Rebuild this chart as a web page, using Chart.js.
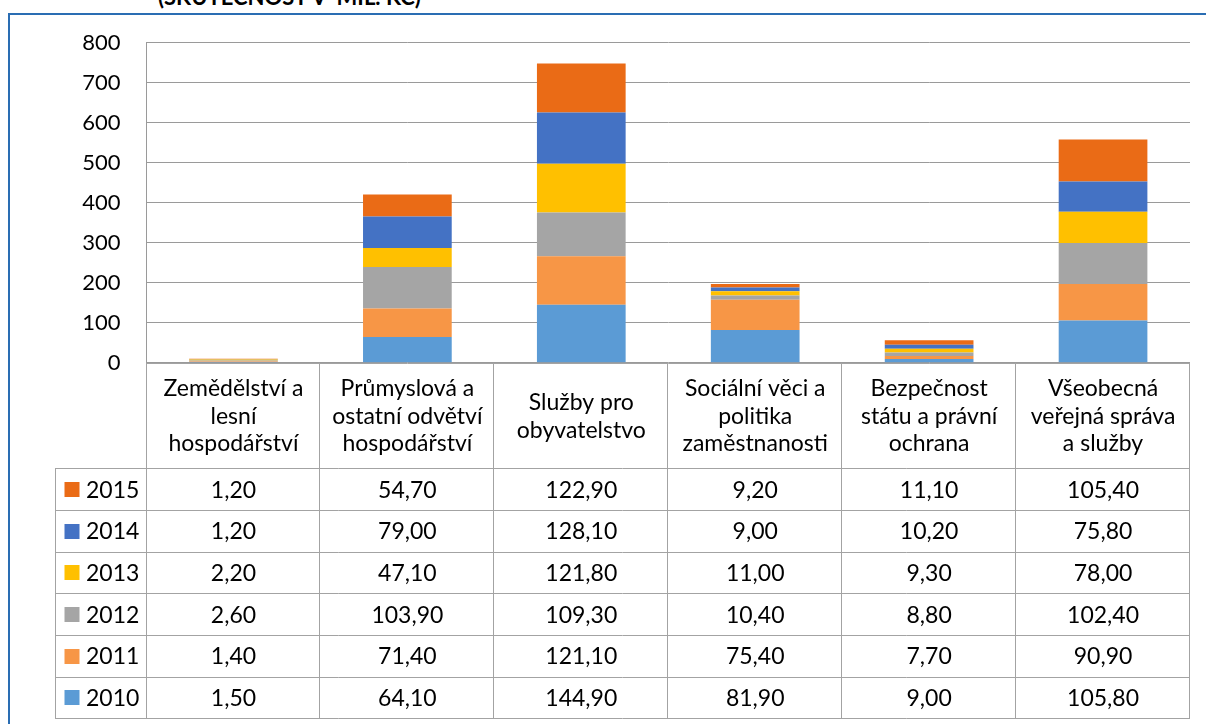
<!DOCTYPE html>
<html>
<head>
<meta charset="utf-8">
<script src="https://cdn.jsdelivr.net/npm/chart.js@4.4.1/dist/chart.umd.min.js"></script>
<style>
  html, body { margin: 0; padding: 0; background: #fff; width: 1206px; height: 724px; overflow: hidden; }
  #frame { position: absolute; left: 8px; top: 13px; width: 1210px; height: 720px; border-left: 2px solid #2a6db3; border-top: 2px solid #2a6db3; box-sizing: border-box; }
  #title { position: absolute; left: 158px; top: -16px; font: bold 22px Lato, sans-serif; color: #000; white-space: pre; line-height: 26px; }
  #wrap { position: absolute; left: 0; top: 0; width: 1206px; height: 724px; }
</style>
</head>
<body>
<div id="title">(SKUTEČNOST V  MIL. KČ)</div>
<div id="frame"></div>
<div id="wrap"><canvas id="c" width="1206" height="724"></canvas></div>
<script>
const categories = [
  ["Zemědělství a", "lesní", "hospodářství"],
  ["Průmyslová a", "ostatní odvětví", "hospodářství"],
  ["Služby pro", "obyvatelstvo"],
  ["Sociální věci a", "politika", "zaměstnanosti"],
  ["Bezpečnost", "státu a právní", "ochrana"],
  ["Všeobecná", "veřejná správa", "a služby"]
];
const years = ["2010", "2011", "2012", "2013", "2014", "2015"];
const v2010 = [1.5, 64.1, 144.9, 81.9, 9.0, 105.8];
const v2011 = [1.4, 71.4, 121.1, 75.4, 7.7, 90.9];
const v2012 = [2.6, 103.9, 109.3, 10.4, 8.8, 102.4];
const v2013 = [2.2, 47.1, 121.8, 11.0, 9.3, 78.0];
const v2014 = [1.2, 79.0, 128.1, 9.0, 10.2, 75.8];
const v2015 = [1.2, 54.7, 122.9, 9.2, 11.1, 105.4];
const yTicks = [0, 100, 200, 300, 400, 500, 600, 700, 800];

const seriesValues = [v2010, v2011, v2012, v2013, v2014, v2015];
const colors = ["#5B9BD5", "#F79646", "#A5A5A5", "#FFC000", "#4472C4", "#EA6B16"];

const FONT = "Lato, sans-serif";
const FS = 22;
const TFS = 23;
const LINE = "#a3a3a3";
const HEADER_H = 105.6;
const ROW_H = 41.67;
const LEGEND_LEFT = 55;

function fmt(v) { return v.toFixed(2).replace(".", ","); }

const tablePlugin = {
  id: "dataTable",
  afterDraw(chart) {
    const ctx = chart.ctx;
    const xs = chart.scales.x;
    const ca = chart.chartArea;
    const n = categories.length;
    const colW = xs.width / n;
    const top = ca.bottom;
    const rowsTop = top + HEADER_H;
    const bottom = rowsTop + ROW_H * years.length;
    ctx.save();
    ctx.strokeStyle = LINE;
    ctx.lineWidth = 1;
    ctx.beginPath();
    ctx.moveTo(xs.left, Math.round(top) + 0.5);
    ctx.lineTo(xs.right, Math.round(top) + 0.5);
    for (let r = 0; r <= years.length; r++) {
      const y = Math.round(rowsTop + r * ROW_H) + 0.5;
      ctx.moveTo(LEGEND_LEFT, y);
      ctx.lineTo(xs.right, y);
    }
    for (let i = 0; i <= n; i++) {
      const x = Math.round(xs.getPixelForValue(0) - colW / 2 + i * colW) - 0.5;
      ctx.moveTo(x, top);
      ctx.lineTo(x, Math.round(bottom) + 1);
    }
    const lx = LEGEND_LEFT + 0.5;
    ctx.moveTo(lx, Math.round(rowsTop));
    ctx.lineTo(lx, Math.round(bottom) + 1);
    ctx.stroke();

    ctx.fillStyle = "#000";
    ctx.font = TFS + "px " + FONT;
    ctx.textAlign = "center";
    ctx.textBaseline = "middle";
    const lh = 27.5;
    categories.forEach((lines, i) => {
      const cx = xs.getPixelForValue(i);
      const cy = top + HEADER_H / 2;
      const y0 = cy - (lines.length - 1) * lh / 2;
      lines.forEach((t, k) => ctx.fillText(t, cx, y0 + k * lh + 1));
    });
    for (let r = 0; r < years.length; r++) {
      const di = years.length - 1 - r;
      const cy = rowsTop + r * ROW_H + ROW_H / 2 + 1;
      ctx.textAlign = "center";
      seriesValues[di].forEach((v, i) => {
        ctx.fillText(fmt(v), xs.getPixelForValue(i), cy);
      });
      ctx.fillStyle = colors[di];
      ctx.fillRect(LEGEND_LEFT + 9.5, Math.round(cy - 8), 15, 15);
      ctx.fillStyle = "#000";
      ctx.textAlign = "left";
      ctx.fillText(years[di], LEGEND_LEFT + 31, cy);
    }
    ctx.restore();
  }
};

new Chart(document.getElementById("c"), {
  type: "bar",
  data: {
    labels: categories,
    datasets: years.map((y, i) => ({
      label: y,
      data: seriesValues[i],
      backgroundColor: colors[i],
      borderWidth: 0,
      barPercentage: 0.51,
      categoryPercentage: 1.0
    }))
  },
  options: {
    responsive: false,
    animation: false,
    devicePixelRatio: 1,
    layout: { padding: { left: 0, right: 16, top: 42.7, bottom: 0 } },
    plugins: { legend: { display: false }, tooltip: { enabled: false }, title: { display: false } },
    scales: {
      x: {
        stacked: true,
        grid: { display: false },
        border: { display: false },
        ticks: { display: false },
        afterFit(scale) { scale.height = 361.3; }
      },
      y: {
        stacked: true,
        min: 0,
        max: 800,
        afterBuildTicks(scale) { scale.ticks = yTicks.map(v => ({ value: v })); },
        grid: { color: "#9a9a9a", lineWidth: 1, drawTicks: false },
        border: { display: true, color: "#9a9a9a" },
        ticks: { padding: 26, color: "#000", font: { family: FONT, size: FS } },
        afterFit(scale) { scale.width = 146.5; }
      }
    }
  },
  plugins: [tablePlugin]
});
</script>
</body>
</html>
